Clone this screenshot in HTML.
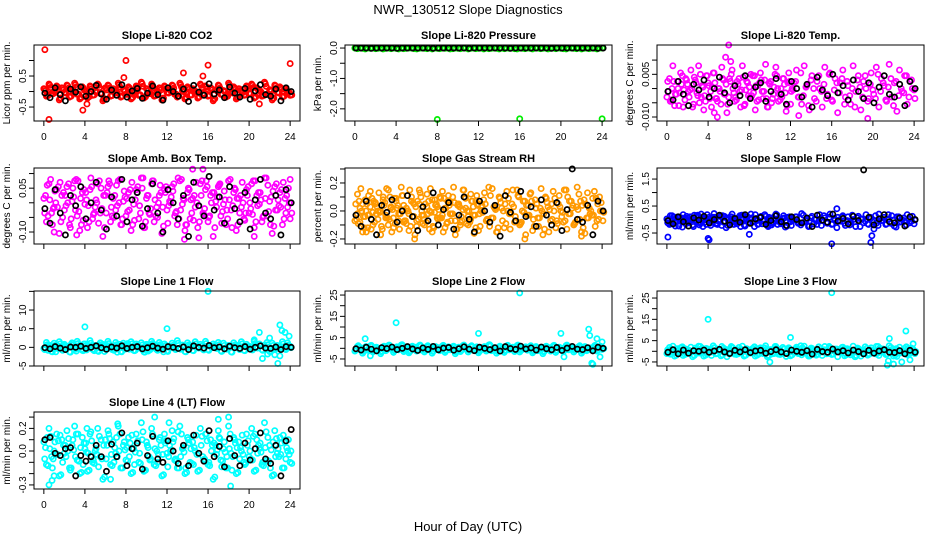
<!DOCTYPE html>
<html><head><meta charset="utf-8"><style>
html,body{margin:0;padding:0;background:#fff;}
svg{display:block;font-family:"Liberation Sans",sans-serif;}
</style></head><body>
<svg id="chart" width="936" height="540" viewBox="0 0 936 540" xmlns="http://www.w3.org/2000/svg">
<rect width="936" height="540" fill="#fff"/>
<text x="468" y="14" text-anchor="middle" font-size="13">NWR_130512  Slope Diagnostics</text>
<text x="468" y="531" text-anchor="middle" font-size="13">Hour of Day (UTC)</text>
</svg>
<script>
const xTicks = [0,4,8,12,16,20,24];
const co2C = [9,-15,24,-6,0,18,-27,12,-3,21,-18,6,27,-9,-24,15,3,-21,18,-12,0,24,-6,-30,12,21,-15,9,-3,27,-18,6,-9,15,-24,3,18,-12,30,-21,9,-6,24,-15,0,12,-27,18,-3,6,21,-9,-18,27,3,-24,15,-12,9,0,-21,24,-6,18,-15,12,-30,6,21,-9,3,-18,27,-3,15,-24,9,0,-12,18,-6,24,-21,12,3,-15,30,-9,6,-27,21,-3,15,-18,9,0,-12];
const co2B = [-5,-20,12,-10,-30,8,-2,15,-15,0,20,-8,-25,5,-12,22,-18,2,10,-22,-5,18,-10,-28,12,0,-15,8,-32,20,-2,-12,25,-8,5,-20,15,-5,-18,10,-25,2,22,-10,-15,8,-30,12,0];
const co2OutH = [0.1,0.5,3.8,4.2,8,7.8,16,24,15.5,13.6,21];
const co2OutV = [1.35,-0.9,-0.6,-0.4,1.0,0.45,0.85,0.9,0.5,0.6,-0.4];
const pressC = [0,-2,0,-1,-3,0,-1,0,-2,-1,0,-3,-1,0,-2,0,-1,-3,0,-2,-1,0,0,-2,-3,-1,0,-1,-2,0,-3,0,-1,-2,0,-1,0,-3,-2,0,-1,-2,0,0,-3,-1,0,-2,-1,0,-3,0,-2,-1,0,-1,-3,0,-2,0,-1,0,-2,-3,0,-1,-2,0,-1,-3,0,0,-2,-1,0,-3,-1,0,-2,0,-1,-2,-3,0,0,-1,-2,0,-3,-1,0,-2,0,-1,-3,0,0];
const pressB = [0,0,0,-1,0,0,0,0,-1,0,0,0,0,0,0,-1,0,0,0,0,0,0,-1,0,0,0,0,0,0,0,-1,0,0,0,0,0,0,0,-1,0,0,0,0,0,0,0,0,-1,0];
const pressOutH = [8,16,24];
const pressOutV = [-2.35,-2.33,-2.33];
const tempC = [-6,7,0,-12,5,-3,9,-8,3,-1,-13,6,-5,10,1,-9,4,-2,11,-7,0,-11,6,3,-6,10,-3,-8,7,-1,-12,5,1,-5,9,-9,4,-2,6,-13,3,-7,10,0,-8,7,-3,4,-11,-1,5,-6,11,-5,1,-12,6,0,-9,9,-2,3,-7,10,-8,-1,4,-3,7,-11,5,-5,0,-13,6,1,-6,9,-9,3,-1,-7,10,-2,4,-8,1,7,-12,5,-5,0,-3,9,-6,6,-1];
const tempB = [-2,-8,5,-4,-12,3,-1,6,-6,0,8,-3,-10,2,-5,9,-7,1,4,-9,-2,7,-4,-11,5,0,-6,3,-13,8,-1,-5,10,-3,2,-8,6,-2,-7,4,-10,1,9,-4,-6,3,-12,5,0];
const tempOutH = [6,5.7,6.2,19.5,4.9,4.6,12.8];
const tempOutV = [0.0153,0.011,0.0095,-0.0105,-0.010,-0.0085,-0.0095];
const ambC = [3,-13,13,-7,-3,9,-21,5,-5,11,-15,1,15,-9,-19,7,-1,-17,9,-11,-3,13,-7,-23,5,11,-13,3,-5,15,-15,1,-9,7,-19,-1,9,-11,17,-17,3,-7,13,-13,-3,5,-21,9,-5,1,11,-9,-15,15,-1,-19,7,-11,3,-3,-17,13,-7,9,-13,5,-23,1,11,-9,-1,-15,15,-5,7,-19,3,-3,-11,9,-7,13,-17,5,-1,-13,17,-9,1,-21,11,-5,7,-15,3,-3,-11];
const ambB = [-4,-14,9,-7,-22,5,-2,11,-11,0,14,-5,-18,4,-9,16,-13,2,7,-16,-4,13,-7,-20,9,0,-11,5,-23,14,-2,-9,18,-5,4,-14,11,-4,-13,7,-18,2,16,-7,-11,5,-22,9,0];
const ambOutH = [1,3.2,20.5,13.7,15.1,15.5,14.5,24];
const ambOutV = [-0.10,-0.11,-0.115,-0.125,-0.12,0.115,0.115,0.08];
const rhC = [-7,12,2,-15,8,-3,14,-10,5,0,-17,10,-5,15,3,-12,7,-2,17,-8,2,-14,10,5,-7,15,-3,-10,12,0,-15,8,3,-5,14,-12,7,-2,10,-17,5,-8,15,2,-10,12,-3,7,-14,0,8,-7,17,-5,3,-15,10,2,-12,14,-2,5,-8,15,-10,0,7,-3,12,-14,8,-5,2,-17,10,3,-7,14,-12,5,0,-8,15,-2,7,-10,3,12,-15,8,-5,2,-3,14,-7,10,0];
const rhC2 = [5,-9,16,-4,0,11,-13,7,-2,13,-11,4,16,-6,-15,9,2,-13,11,-7,0,15,-4,-17,7,13,-9,5,-2,16,-11,4,-6,9,-15,2,11,-7,17,-13,5,-4,15,-9,0,7,-16,11,-2,4,13,-6,-11,16,2,-15,9,-7,5,0,-13,15,-4,11,-9,7,-17,4,13,-6,2,-11,16,-2,9,-15,5,0,-7,11,-4,15,-13,7,2,-9,17,-6,4,-16,13,-2,9,-11,5,0,-7];
const rhB = [-3,-11,7,-6,-17,4,-1,8,-8,0,11,-4,-14,3,-7,13,-10,1,6,-13,-3,10,-6,-15,7,0,-8,4,-18,11,-1,-7,14,-4,3,-11,8,-3,-10,6,-14,1,30,-6,-8,4,-17,7,0];
const rhOutH = [16.5,5.8,22,1.1];
const rhOutV = [-0.2,-0.2,-0.18,-0.15];
const sampleC = [1,-9,7,-5,-3,4,-14,2,-4,5,-10,-1,8,-7,-13,3,-2,-11,4,-8,-3,7,-5,-15,2,5,-9,1,-4,8,-10,-1,-7,3,-13,-2,4,-8,9,-11,1,-5,7,-9,-3,2,-14,4,-4,-1,5,-7,-10,8,-2,-13,3,-8,1,-3,-11,7,-5,4,-9,2,-15,-1,5,-7,-2,-10,8,-4,3,-13,1,-3,-8,4,-5,7,-11,2,-2,-9,9,-7,-1,-14,5,-4,3,-10,1,-3,-8];
const sampleB = [-2,-8,5,-4,-12,3,-1,6,-6,0,8,-3,-10,2,-5,9,-7,1,4,-9,-2,7,-4,-11,5,0,-6,3,-13,8,-1,-5,10,-3,2,-8,6,-2,92,4,-10,1,9,-4,-6,3,-12,5,0];
const sampleOutH = [0.1,4,4.1,8,16,19.8,19.9,16.5,20.1];
const sampleOutV = [-0.65,-0.7,-0.75,-0.55,-0.9,-0.85,-0.6,0.4,-0.35];
const line1C = [-3,13,5,-11,11,0,15,-6,8,3,-12,12,-1,16,6,-8,9,2,18,-5,5,-9,12,8,-3,16,0,-6,13,3,-11,11,6,-2,15,-8,9,2,12,-12,8,-5,16,5,-6,13,0,9,-9,3,11,-3,18,-2,6,-11,12,5,-8,15,2,8,-5,16,-6,3,9,0,13,-9,11,-2,5,-12,12,6,-3,15,-8,8,3,-5,16,2,9,-6,6,13,-11,11,-2,5,0,15,-3,12,3];
const line1B = [-1,-4,2,-2,-6,1,0,3,-3,0,4,-1,-5,1,-2,4,-3,0,2,-4,-1,3,-2,-5,2,0,-3,1,-6,4,0,-2,5,-1,1,-4,3,-1,-3,2,-5,0,4,-2,-3,1,-6,2,0];
const line1OutH = [4,12,16,21,21.3,22,23,23.2,23.5,23.9,22.8,23,22.5,20.5,21.8];
const line1OutV = [5.5,5,15,4,-3,2.5,6,4.5,4,3,-4.3,-2.3,-2,2,-1.8];
const line2C = [-13,9,-3,-23,5,-9,11,-17,1,-5,-25,7,-11,13,-1,-19,3,-7,15,-15,-3,-21,7,1,-13,13,-9,-17,9,-5,-23,5,-1,-11,11,-19,3,-7,7,-25,1,-15,13,-3,-17,9,-9,3,-21,-5,5,-13,15,-11,-1,-23,7,-3,-19,11,-7,1,-15,13,-17,-5,3,-9,9,-21,5,-11,-3,-25,7,-1,-13,11,-19,1,-5,-15,13,-7,3,-17,-1,9,-23,5,-11,-3,-9,11,-13,7,-5];
const line2B = [-2,-8,5,-4,-12,3,-1,6,-6,0,8,-3,-10,2,-5,9,-7,1,4,-9,-2,7,-4,-11,5,0,-6,3,-13,8,-1,-5,10,-3,2,-8,6,-2,-7,4,-10,1,9,-4,-6,3,-12,5,0];
const line2OutH = [1,1.5,4,12,16,20,20.3,22.7,22.8,23,23.1,23.5,23.8,24];
const line2OutV = [4.5,-3.5,12,7,26,7,-4,9,6,-7,-7.5,4.5,-4,3];
const line3C = [-7,12,2,-15,8,-3,14,-10,5,0,-17,10,-5,15,3,-12,7,-2,17,-8,2,-14,10,5,-7,15,-3,-10,12,0,-15,8,3,-5,14,-12,7,-2,10,-17,5,-8,15,2,-10,12,-3,7,-14,0,8,-7,17,-5,3,-15,10,2,-12,14,-2,5,-8,15,-10,0,7,-3,12,-14,8,-5,2,-17,10,3,-7,14,-12,5,0,-8,15,-2,7,-10,3,12,-15,8,-5,2,-3,14,-7,10,0];
const line3B = [-3,5,-8,4,-6,2,0,4,-3,1,6,-2,-7,3,-2,5,-4,1,3,-6,-1,5,-2,-7,4,0,-3,2,-9,6,-1,-3,7,-2,2,-5,4,-1,-8,3,-6,1,5,-3,-4,2,-8,3,-3];
const line3OutH = [4,12,16,10,21.5,21.6,22,23.2,23.9,21.4,22.8,18.3,23.6];
const line3OutV = [15,6.5,27.5,-5,-4.5,6,-6,9.5,3.5,-6.5,-5,-2.5,-4];
const line4C = [8,-12,20,-5,0,15,-22,10,-2,18,-15,5,22,-8,-20,12,2,-18,15,-10,0,20,-5,-25,10,18,-12,8,-2,22,-15,5,-8,12,-20,2,15,-10,25,-18,8,-5,20,-12,0,10,-22,15,-2,5,18,-8,-15,22,2,-20,12,-10,8,0,-18,20,-5,15,-12,10,-25,5,18,-8,2,-15,22,-2,12,-20,8,0,-10,15,-5,20,-18,10,2,-12,25,-8,5,-22,18,-2,12,-15,8,0,-10];
const line4B = [10,12,-2,-4,2,3,-22,-4,-9,-5,5,-5,-18,6,-5,16,-13,2,7,-16,-4,13,-7,-10,9,0,-11,5,-13,14,-2,-9,18,-5,4,-14,11,-4,-13,7,-8,2,16,-7,-11,5,-22,9,19];
const line4OutH = [10.8,12.2,18,18.2,0.5,6.5,17,1,0.8,4.2,7.2];
const line4OutV = [0.3,0.25,0.3,-0.31,-0.3,-0.25,0.28,-0.22,-0.26,0.2,0.24];

const svg = document.getElementById('chart');
const NS = 'http://www.w3.org/2000/svg';
function mk(tag, attrs, parent){const e=document.createElementNS(NS,tag);for(const k in attrs)e.setAttribute(k,attrs[k]);(parent||svg).appendChild(e);return e;}

const panels = [
 {name:'co2',title:'Slope Li-820 CO2',ylab:'Licor ppm per min.',box:[34,300,45,121],yr:[-0.95,1.5],yt:[-0.5,0,0.5,1.0],yl:['-0.5','','0.5',''],col:'#ff0000',unit:0.01,c:[co2C,line4C,ambC],b:co2B,oh:co2OutH,ov:co2OutV,xl:true},
 {name:'pressure',title:'Slope Li-820 Pressure',ylab:'kPa per min.',box:[345,612,45,121],yr:[-2.4,0.1],yt:[-2,-1.5,-1,-0.5,0],yl:['-2.0','','-1.0','','0.0'],col:'#00ee00',unit:0.01,c:[pressC],b:pressB,oh:pressOutH,ov:pressOutV,xl:true},
 {name:'temp',title:'Slope Li-820 Temp.',ylab:'degrees C per min.',box:[657,924,45,121],yr:[-0.0114,0.0153],yt:[-0.01,-0.005,0,0.005,0.01],yl:['-0.010','','','0.005',''],col:'#ff00ff',unit:0.0005,c:[tempC,rhC2,tempB],b:tempB,oh:tempOutH,ov:tempOutV,xl:true},
 {name:'amb-temp',title:'Slope Amb. Box Temp.',ylab:'degrees C per min.',box:[34,300,168,244],yr:[-0.141,0.119],yt:[-0.1,-0.05,0,0.05,0.1],yl:['-0.10','','','0.05',''],col:'#ff00ff',unit:0.005,c:[ambC,rhC,rhC2],b:ambB,oh:ambOutH,ov:ambOutV,xl:false},
 {name:'rh',title:'Slope Gas Stream RH',ylab:'percent per min.',box:[345,612,168,244],yr:[-0.236,0.307],yt:[-0.2,-0.1,0,0.1,0.2,0.3],yl:['-0.2','','0.0','','0.2',''],col:'#ff9900',unit:0.01,c:[rhC,rhC2,tempC,line2B],b:rhB,oh:rhOutH,ov:rhOutV,xl:false},
 {name:'sample-flow',title:'Slope Sample Flow',ylab:'ml/min per min.',box:[657,924,168,244],yr:[-0.907,1.91],yt:[-0.5,0,0.5,1,1.5],yl:['-0.5','','0.5','','1.5'],col:'#0000ff',unit:0.02,c:[sampleC,tempC,line2B],b:sampleB,oh:sampleOutH,ov:sampleOutV,xl:false},
 {name:'line1-flow',title:'Slope Line 1 Flow',ylab:'ml/min per min.',box:[34,300,291,366],yr:[-5,15.1],yt:[-5,0,5,10,15],yl:['-5','0','5','10',''],col:'#00ffff',unit:0.1,c:[line1C,tempC,line2B],b:line1B,oh:line1OutH,ov:line1OutV,xl:false},
 {name:'line2-flow',title:'Slope Line 2 Flow',ylab:'ml/min per min.',box:[345,612,291,366],yr:[-8.3,26.9],yt:[-5,0,5,10,15,20,25],yl:['-5','','5','','15','','25'],col:'#00ffff',unit:0.1,c:[line2C,rhC,tempC],b:line2B,oh:line2OutH,ov:line2OutV,xl:false},
 {name:'line3-flow',title:'Slope Line 3 Flow',ylab:'ml/min per min.',box:[657,924,291,366],yr:[-6.9,28.3],yt:[-5,0,5,10,15,20,25],yl:['-5','','5','','15','','25'],col:'#00ffff',unit:0.15,c:[line3C,rhC2,tempC],b:line3B,oh:line3OutH,ov:line3OutV,xl:false},
 {name:'line4-flow',title:'Slope Line 4 (LT) Flow',ylab:'ml/min per min.',box:[34,300,412,489],yr:[-0.336,0.345],yt:[-0.3,-0.2,-0.1,0,0.1,0.2,0.3],yl:['-0.3','','','0.0','','0.2',''],col:'#00ffff',unit:0.01,c:[line4C,rhC,ambC],b:line4B,oh:line4OutH,ov:line4OutV,xl:true}
];

panels.forEach(p=>{
  const [x0,x1,y0,y1]=p.box;
  const g=mk('g',{});
  
  
  const X=h=>x0+(h+0.96)/25.92*(x1-x0);
  const Y=v=>y1-(v-p.yr[0])/(p.yr[1]-p.yr[0])*(y1-y0);
  const cx=(x0+x1)/2;
  const t=mk('text',{x:cx,y:y0-6,'text-anchor':'middle','font-size':'11','font-weight':'bold'},g);
  t.textContent=p.title;
  
  
  const yl=mk('text',{x:0,y:0,'text-anchor':'middle','font-size':'10',transform:`translate(${x0-24},${(y0+y1)/2}) rotate(-90)`},g);
  yl.textContent=p.ylab;
  
  
  const pts=mk('g',{fill:'none','stroke-width':'1.7'},g);
  
  
  p.c.forEach((arr,k)=>{
    arr.forEach((v,i)=>{
      const h=i*0.25+k*0.08;
      const c=mk('circle',{cx:X(h),cy:Y(v*p.unit),r:2.6,stroke:p.col},pts);
      
      
    });
  });
  p.oh.forEach((h,i)=>{
    const c=mk('circle',{cx:X(h),cy:Y(p.ov[i]),r:2.6,stroke:p.col},pts);
    
    
  });
  p.b.forEach((v,i)=>{
    const c=mk('circle',{cx:X(i*0.5+0.1),cy:Y(v*p.unit),r:2.6,stroke:'#000'},pts);
    
    
  });
  const b=mk('rect',{x:x0,y:y0,width:x1-x0,height:y1-y0,fill:'none',stroke:'#000','stroke-width':'1'},g);
  
  
  const xa=mk('g',{},g);
  
  
  mk('line',{x1:X(0),x2:X(24),y1:y1,y2:y1,stroke:'#000'},xa);
  xTicks.forEach(h=>{
    mk('line',{x1:X(h),x2:X(h),y1:y1,y2:y1+5,stroke:'#000'},xa);
    if(p.xl){const tt=mk('text',{x:X(h),y:y1+19,'text-anchor':'middle','font-size':'10'},xa);tt.textContent=h;}
  });
  const ya=mk('g',{},g);
  
  
  p.yt.forEach((v,i)=>{
    mk('line',{x1:x0-5,x2:x0,y1:Y(v),y2:Y(v),stroke:'#000'},ya);
    if(p.yl[i]){const tt=mk('text',{x:0,y:0,'text-anchor':'middle','font-size':'10',transform:`translate(${x0-8},${Y(v)}) rotate(-90)`},ya);tt.textContent=p.yl[i];}
  });
  mk('line',{x1:x0,x2:x0,y1:Y(p.yt[0]),y2:Y(p.yt[p.yt.length-1]),stroke:'#000'},ya);
});
</script>
</body></html>
